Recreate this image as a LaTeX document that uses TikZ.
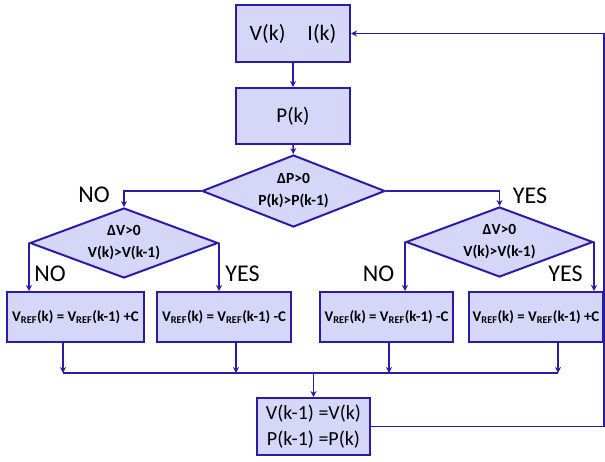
\documentclass[tikz,border=0pt]{standalone}
\usepackage{fontspec}
\setmainfont{Carlito}
\usetikzlibrary{shapes.geometric,arrows.meta}
\definecolor{boxfill}{RGB}{214,214,248}
\definecolor{edgeblue}{RGB}{44,28,165}
\tikzset{
  procbox/.style={draw=edgeblue,fill=boxfill,line width=2pt,rectangle,inner sep=0pt,align=center},
  decbox/.style={draw=edgeblue,fill=boxfill,line width=2pt,diamond,shape aspect=2.6,inner sep=0pt,align=center,font=\fontsize{15.5}{22}\selectfont\bfseries},
  refbox/.style={procbox,minimum height=50pt,font=\fontsize{14.8}{17}\selectfont\bfseries},
  conn/.style={draw=edgeblue,line width=1.8pt},
  arr/.style={conn,-{Stealth[length=6pt,width=6pt]}},
  lbl/.style={inner sep=0pt,font=\fontsize{24}{24}\selectfont},
}
\begin{document}
\begin{tikzpicture}[x=1pt,y=-1pt]
\useasboundingbox (0,0) rectangle (605,461);
% process boxes
\node[procbox,minimum width=114pt,minimum height=57pt,font=\fontsize{22}{24}\selectfont] (b1) at (293,33.5) {V(k)\hspace{1em}I(k)};
\node[procbox,minimum width=114pt,minimum height=56pt,font=\fontsize{21}{24}\selectfont] (b2) at (293,116) {P(k)};
% decisions
\node[decbox,minimum width=183pt,minimum height=72pt] (d1) at (293.5,191) {ΔP>0\\P(k)>P(k-1)};
\node[decbox,minimum width=188pt,minimum height=70pt] (d2) at (124,243) {ΔV>0\\V(k)>V(k-1)};
\node[decbox,minimum width=187pt,minimum height=70pt] (d3) at (499.5,242) {ΔV>0\\V(k)>V(k-1)};
% update boxes
\node[refbox,minimum width=137pt] (l1) at (75.5,317) {V\textsubscript{REF}(k) = V\textsubscript{REF}(k-1) +C};
\node[refbox,minimum width=134pt] (l2) at (224,317) {V\textsubscript{REF}(k) = V\textsubscript{REF}(k-1) -C};
\node[refbox,minimum width=133pt] (r1) at (386.5,317) {V\textsubscript{REF}(k) = V\textsubscript{REF}(k-1) -C};
\node[refbox,minimum width=134pt] (r2) at (536,317) {V\textsubscript{REF}(k) = V\textsubscript{REF}(k-1) +C};
% final box
\node[procbox,minimum width=113pt,minimum height=57pt,font=\fontsize{20}{26}\selectfont] (fb) at (313.5,426.5) {V(k-1) =V(k)\\P(k-1) =P(k)};
% labels
\node[lbl] (no1) at (94,195) {NO};
\node[lbl] (yes1) at (530,196) {YES};
\node[lbl] (no2) at (50,273.5) {NO};
\node[lbl] (yes2) at (242.5,273.5) {YES};
\node[lbl] (no3) at (378.5,273.5) {NO};
\node[lbl] (yes3) at (565.5,273.5) {YES};
% merge coordinates
\coordinate (m1) at ([xshift=-12.5pt]l1.south);
\coordinate (m2) at ([xshift=12pt]l2.south);
\coordinate (m3) at ([xshift=2.5pt]r1.south);
\coordinate (m4) at ([xshift=22pt]r2.south);
\coordinate (h1) at (63,373);
\coordinate (h4) at (558,373);
\coordinate (hm) at (313.5,373);
\coordinate (fr) at (604,426.5);
\coordinate (tr) at (604,33.5);
% connectors
\draw[arr] (b1) -- (b2);
\draw[arr] (b2) -- (d1);
\draw[arr] (d1.west) -| (d2.north);
\draw[arr] (d1.east) -| (d3.north);
\draw[arr] (d2.west) -- (d2.west |- l1.north);
\draw[arr] (d2.east) -- (d2.east |- l2.north);
\draw[arr] (d3.west) -- (d3.west |- r1.north);
\draw[arr] (d3.east) -- (d3.east |- r2.north);
\draw[arr] (m1) -- (m1 |- h1);
\draw[arr] (m2) -- (m2 |- h1);
\draw[arr] (m3) -- (m3 |- h1);
\draw[arr] (m4) -- (m4 |- h1);
\draw[conn] (h1) -- (h4);
\draw[arr] (hm) -- (fb.north);
\draw[arr] (fb.east) -- (fr) -- (tr) -- (b1.east);
\end{tikzpicture}
\end{document}
